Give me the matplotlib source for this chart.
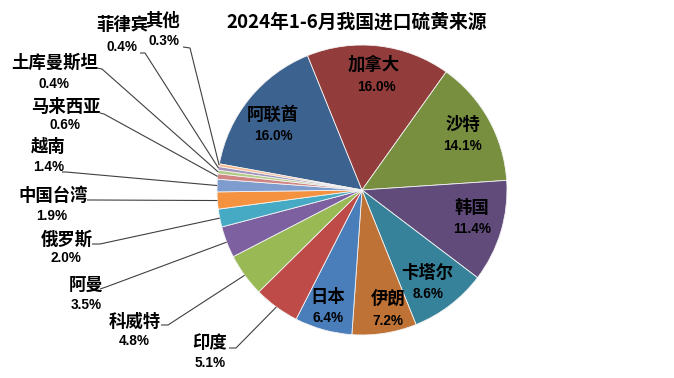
import numpy as np
import matplotlib
matplotlib.use("Agg")
import matplotlib.pyplot as plt

plt.rcParams['font.family'] = ['Noto Sans CJK SC', 'DejaVu Sans']

# ---------------- data ----------------
title = "2024年1-6月我国进口硫黄来源"
categories = ["阿联酋", "加拿大", "沙特", "韩国", "卡塔尔", "伊朗", "日本", "印度",
              "科威特", "阿曼", "俄罗斯", "中国台湾", "越南", "马来西亚", "土库曼斯坦",
              "菲律宾", "其他"]
shares = [16.0, 16.0, 14.1, 11.4, 8.6, 7.2, 6.4, 5.1, 4.8, 3.5, 2.0, 1.9, 1.4, 0.6, 0.4, 0.4, 0.3]
pct_labels = ["16.0%", "16.0%", "14.1%", "11.4%", "8.6%", "7.2%", "6.4%", "5.1%", "4.8%",
              "3.5%", "2.0%", "1.9%", "1.4%", "0.6%", "0.4%", "0.4%", "0.3%"]

# ---------------- style ----------------
colors = ["#3C6290", "#923D3B", "#778F3F", "#604B7B", "#36829A", "#BE7236",
          "#4A7EBB", "#BE4B48", "#98B954", "#7D60A0", "#46AAC5", "#F4923F",
          "#7E9DCE", "#D08483", "#B3CB84", "#A293BD", "#F9B98A"]

W, H = 674, 378
fig = plt.figure(figsize=(W / 100, H / 100), dpi=100)
ax = fig.add_axes([0, 0, 1, 1])

def P(x, y):
    return (x, H - y)

cx, cy, R = 362, 190, 145
wedges, _ = ax.pie(shares, colors=colors, startangle=169.6, counterclock=False,
                   center=P(cx, cy), radius=R,
                   wedgeprops=dict(edgecolor="#F2F2F2", linewidth=0.6))
ax.set_xlim(0, W)
ax.set_ylim(0, H)
ax.set_aspect("equal")
ax.axis("off")

fig.text(357 / W, 1 - 22 / H, title, ha="center", va="center",
         fontsize=13.5, fontweight="bold", color="black")

name_font = dict(fontsize=12.5, fontweight="bold", color="black")
pct_font = dict(family=["Liberation Sans", "DejaVu Sans"], fontsize=9.8, fontweight="bold", color="black")

# inside labels: (name center, pct center) in pixels
inside = {
    0: ((273, 115), (273, 136)),
    1: ((374, 65), (376, 87)),
    2: ((463, 125), (463, 146)),
    3: ((472, 208), (472, 229)),
    4: ((427, 273), (428, 294)),
    5: ((388, 300), (388, 321)),
    6: ((328, 297), (328, 318)),
}
# outside labels: name center, pct center, line start, elbow
outside = {
    7: ((210, 343), (210, 363), (229, 348), (236, 348)),
    8: ((135, 322), (134, 341), (161, 325), (168, 325)),
    9: ((86, 285), (86, 305), (100, 289), (106, 287)),
    10: ((67, 240), (66, 258), (92, 244), (100, 244)),
    11: ((53, 196), (52, 216), (87, 200), (94, 200)),
    12: ((48, 147), (49, 167), (62, 172), (66, 172)),
    13: ((66, 107), (65, 125), (100, 113), (104, 114)),
    14: ((55, 63), (54, 84), (97, 68), (102, 69)),
    15: ((122, 25), (122, 47), (140, 53), (145, 53)),
    16: ((163, 21), (164, 41), (183, 47), (190, 48)),
}

for i, ((nx, ny), (px_, py_)) in inside.items():
    ax.text(*P(nx, ny), categories[i], ha="center", va="center", **name_font)
    ax.text(*P(px_, py_), pct_labels[i], ha="center", va="center", **pct_font)

for i, ((nx, ny), (px_, py_), s, e) in outside.items():
    w = wedges[i]
    mid = np.deg2rad((w.theta1 + w.theta2) / 2)
    ex = w.center[0] + w.r * np.cos(mid)
    ey = w.center[1] + w.r * np.sin(mid)
    xs = [P(*s)[0], P(*e)[0], ex]
    ys = [P(*s)[1], P(*e)[1], ey]
    ax.plot(xs, ys, color="#404040", linewidth=0.8, solid_capstyle="butt")
    ax.text(*P(nx, ny), categories[i], ha="center", va="center", **name_font)
    ax.text(*P(px_, py_), pct_labels[i], ha="center", va="center", **pct_font)

fig.savefig("out.png", dpi=100, facecolor="white")
